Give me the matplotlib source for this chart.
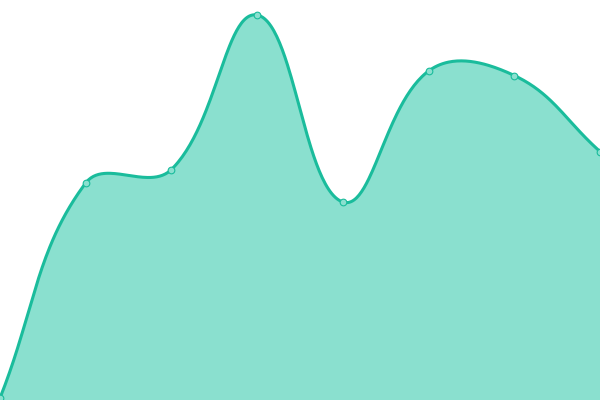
import matplotlib
matplotlib.use("Agg")
import matplotlib.pyplot as plt
import numpy as np

# values (y axis 0..400, 8 evenly spaced points)
labels = ["P1", "P2", "P3", "P4", "P5", "P6", "P7", "P8"]
values = [2, 217, 230.5, 385, 198, 329, 324.5, 248.5]

W, H = 600, 400
y_max = 400
tension = 0.4

x = np.arange(len(values))
x_max = len(values) - 1

# work in pixel space so the spline matches a canvas-style bezier smoothing
px = x * W / x_max
py = np.array(values, dtype=float) * H / y_max
pts = np.column_stack([px, py])


def control_points(prev, cur, nxt, t):
    d01 = np.hypot(*(cur - prev))
    d12 = np.hypot(*(nxt - cur))
    tot = d01 + d12
    s01 = d01 / tot if tot else 0
    s12 = d12 / tot if tot else 0
    c_prev = cur - t * s01 * (nxt - prev)
    c_next = cur + t * s12 * (nxt - prev)
    return c_prev, c_next


n = len(pts)
cp_prev, cp_next = [], []
for i in range(n):
    prev = pts[max(i - 1, 0)]
    nxt = pts[min(i + 1, n - 1)]
    a, b = control_points(prev, pts[i], nxt, tension)
    # keep control points inside the plotting area
    a = np.clip(a, [0, 0], [W, H])
    b = np.clip(b, [0, 0], [W, H])
    cp_prev.append(a)
    cp_next.append(b)

curve = []
tt = np.linspace(0, 1, 60)[:, None]
for i in range(n - 1):
    p0, c1, c2, p3 = pts[i], cp_next[i], cp_prev[i + 1], pts[i + 1]
    seg = ((1 - tt) ** 3) * p0 + 3 * ((1 - tt) ** 2) * tt * c1 \
        + 3 * (1 - tt) * tt ** 2 * c2 + tt ** 3 * p3
    curve.append(seg if i == 0 else seg[1:])
curve = np.vstack(curve)
cx = curve[:, 0] * x_max / W
cy = curve[:, 1] * y_max / H

fig = plt.figure(figsize=(6, 4), dpi=100)
ax = fig.add_axes([0, 0, 1, 1])
ax.fill_between(cx, 0, cy, color="#8ae0cf", linewidth=0)
ax.plot(cx, cy, color="#1abc9c", linewidth=2.2, solid_capstyle="round")
ax.plot(x, values, "o", markersize=4.8, markerfacecolor="#8ae0cf",
        markeredgecolor="#1abc9c", markeredgewidth=0.8, clip_on=False)
ax.set_xlim(0, x_max)
ax.set_ylim(0, y_max)
ax.axis("off")

fig.savefig("out.png", dpi=100)
